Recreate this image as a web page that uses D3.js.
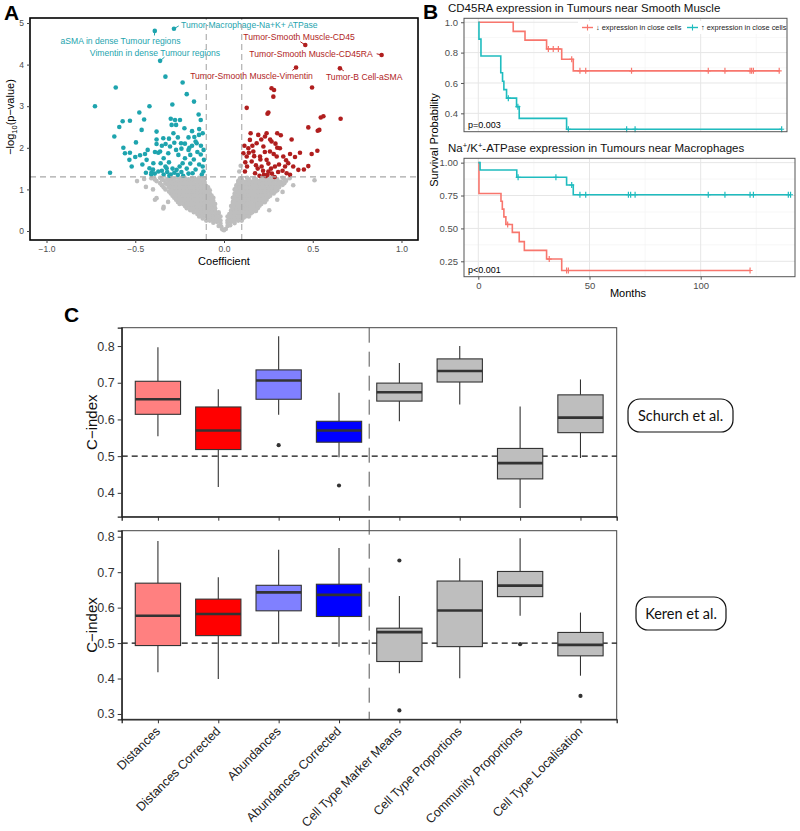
<!DOCTYPE html>
<html>
<head>
<meta charset="utf-8">
<script src="https://d3js.org/d3.v7.min.js"></script>
<style>
  body { margin: 0; background: #fff; font-family: "Liberation Sans", Arial, sans-serif; }
  svg { display: block; }
</style>
</head>
<body>
<div id="fig"></div>
<script>
// ---------- panel A : volcano ----------
const volcanoTeal = [[-0.727,3.0],[-0.61,3.45],[-0.642,1.40],[-0.618,2.27],[-0.59,2.5],[-0.571,2.64],[-0.567,2.0],[-0.558,1.87],[-0.533,1.71],[-0.53,2.65],[-0.52,1.55],[-0.496,2.13],[-0.477,2.85],[-0.473,1.82],[-0.464,2.43],[-0.45,2.68],[-0.445,1.85],[-0.436,1.71],[-0.42,3.0],[-0.42,1.51],[-0.408,1.41],[-0.398,1.63],[-0.389,1.9],[-0.38,2.39],[-0.38,2.09],[-0.37,1.43],[-0.36,1.91],[-0.357,1.63],[-0.342,2.23],[-0.33,3.71],[-0.329,2.09],[-0.323,1.51],[-0.314,1.87],[-0.308,1.33],[-0.304,2.03],[-0.295,2.55],[-0.291,3.04],[-0.285,2.35],[-0.276,2.67],[-0.267,1.47],[-0.257,1.83],[-0.248,2.67],[-0.242,2.11],[-0.233,3.57],[-0.233,1.63],[-0.223,2.47],[-0.21,3.29],[-0.2,2.25],[-0.195,2.0],[-0.19,1.83],[-0.177,1.39],[-0.169,3.11],[-0.167,2.26],[-0.154,2.11],[-0.143,2.8],[-0.141,2.31],[-0.131,2.67],[-0.131,1.84],[-0.116,1.43],[-0.113,1.71],
  [-0.41,1.36],[-0.39,1.38],[-0.35,1.45],[-0.34,1.36],[-0.33,1.55],[-0.32,1.42],[-0.31,1.65],[-0.3,1.36],[-0.29,1.5],[-0.28,1.4],[-0.27,1.95],[-0.26,1.35],[-0.25,1.55],[-0.24,1.42],[-0.23,1.33],[-0.22,1.75],[-0.21,1.5],[-0.2,1.38],[-0.19,1.62],[-0.18,2.05],[-0.17,1.72],[-0.16,1.48],[-0.15,1.9],[-0.14,1.6],[-0.13,2.05],[-0.125,1.36],[-0.12,2.35],[-0.115,1.95],[-0.35,2.05],[-0.37,1.88],[-0.4,1.48],[-0.43,1.95],[-0.46,1.6],[-0.5,1.78],[-0.53,1.88],[-0.31,2.22],[-0.28,2.12],[-0.26,2.25],[-0.24,1.98],[-0.22,2.1],[-0.2,1.95],[-0.18,2.4],[-0.16,2.15],[-0.14,2.45],[-0.3,2.7],[-0.27,2.55],[-0.38,2.2],[-0.12,1.55],[-0.44,1.4],[-0.34,1.75]];

const volcanoRed = [[0.268,3.43],[0.282,3.39],[0.278,3.23],[0.496,3.45],[0.128,2.96],[0.25,2.85],[0.245,2.82],[0.56,2.76],[0.545,2.73],[0.657,2.7],[0.475,2.49],[0.537,2.43],[0.528,2.41],[0.526,1.93],[0.494,1.85],[0.475,1.56],[0.428,1.88],[0.419,1.47],[0.381,2.2],[0.372,1.85],[0.362,1.63],[0.334,1.79],[0.344,1.55],[0.353,1.39],[0.315,1.99],[0.297,1.79],[0.287,1.55],[0.268,2.15],[0.259,1.91],[0.25,1.43],[0.24,1.71],[0.231,2.27],[0.222,2.03],[0.212,1.55],[0.203,1.79],[0.193,2.31],[0.184,2.11],[0.175,1.39],[0.165,1.91],[0.156,1.67],[0.146,2.19],[0.137,1.99],[0.128,1.79],[0.118,1.43],[0.109,1.87],
  [0.24,2.35],[0.26,2.2],[0.29,2.1],[0.33,1.45],[0.372,1.35],[0.2,1.33],[0.225,1.35],[0.3,2.0],[0.115,2.05],[0.13,1.55],[0.15,2.35],[0.17,1.8],[0.19,1.5],[0.21,2.2],[0.23,1.9],[0.25,1.62],[0.27,1.38],[0.28,1.85],[0.31,1.6],[0.32,2.3],[0.35,1.7],[0.39,1.55],[0.4,1.78],[0.16,2.05],[0.18,1.58],[0.205,1.72],[0.235,1.32],[0.265,1.5],[0.285,1.3],[0.305,1.42],[0.245,1.35],[0.22,1.45],[0.14,1.88],[0.12,1.65],[0.3,2.35],[0.45,1.48]];

const volcanoGrey = [
  [-0.01,0.04],[0.0,0.02],[-0.03,0.12],[-0.015,0.1],[-0.06,0.2],[-0.04,0.22],[-0.02,0.18],
  [-0.12,0.3],[-0.09,0.28],[-0.07,0.32],[-0.05,0.29],[-0.03,0.31],
  [-0.15,0.41],[-0.13,0.38],[-0.11,0.42],[-0.09,0.39],[-0.07,0.41],[-0.05,0.38],[-0.03,0.42],
  [-0.19,0.5],[-0.17,0.52],[-0.15,0.48],[-0.13,0.51],[-0.11,0.49],[-0.09,0.52],[-0.07,0.5],[-0.05,0.48],
  [-0.22,0.6],[-0.2,0.62],[-0.18,0.58],[-0.16,0.61],[-0.14,0.59],[-0.12,0.62],[-0.1,0.6],[-0.08,0.58],[-0.06,0.61],
  [-0.26,0.7],[-0.24,0.72],[-0.22,0.68],[-0.2,0.71],[-0.18,0.69],[-0.16,0.72],[-0.14,0.7],[-0.12,0.68],[-0.1,0.71],[-0.08,0.69],[-0.06,0.72],
  [-0.28,0.8],[-0.26,0.82],[-0.24,0.78],[-0.22,0.81],[-0.2,0.79],[-0.18,0.82],[-0.16,0.8],[-0.14,0.78],[-0.12,0.81],[-0.1,0.79],[-0.08,0.82],[-0.06,0.8],
  [-0.3,0.9],[-0.28,0.92],[-0.26,0.88],[-0.24,0.91],[-0.22,0.89],[-0.2,0.92],[-0.18,0.9],[-0.16,0.88],[-0.14,0.91],[-0.12,0.89],[-0.1,0.92],[-0.08,0.9],
  [-0.33,1.0],[-0.3,1.02],[-0.28,0.98],[-0.26,1.01],[-0.24,0.99],[-0.22,1.02],[-0.2,1.0],[-0.18,0.98],[-0.16,1.01],[-0.14,0.99],[-0.12,1.02],[-0.1,1.0],[-0.08,0.98],
  [-0.35,1.1],[-0.32,1.12],[-0.3,1.08],[-0.28,1.11],[-0.26,1.09],[-0.24,1.12],[-0.22,1.1],[-0.2,1.08],[-0.18,1.11],[-0.16,1.09],[-0.14,1.12],[-0.12,1.1],[-0.1,1.08],
  [-0.38,1.2],[-0.34,1.22],[-0.31,1.18],[-0.29,1.21],[-0.27,1.19],[-0.25,1.22],[-0.23,1.2],[-0.21,1.18],[-0.19,1.21],[-0.17,1.19],[-0.15,1.22],[-0.13,1.2],[-0.11,1.18],
  [-0.41,1.27],[-0.36,1.28],[-0.3,1.26],[-0.26,1.28],[-0.22,1.27],[-0.18,1.26],[-0.14,1.28],[-0.11,1.27],
  [-0.44,1.06],[-0.38,0.79],[-0.34,0.58],[-0.315,0.70],[-0.45,1.25],[-0.49,1.2],[-0.4,1.0],[-0.342,0.54],[-0.389,0.75],
  [0.01,0.05],[0.02,0.12],[0.035,0.14],[0.02,0.2],[0.04,0.22],[0.06,0.19],
  [0.03,0.3],[0.05,0.28],[0.07,0.31],[0.09,0.29],[0.11,0.32],
  [0.03,0.41],[0.05,0.39],[0.07,0.42],[0.09,0.38],[0.11,0.41],[0.13,0.39],[0.15,0.42],
  [0.04,0.5],[0.06,0.52],[0.08,0.48],[0.1,0.51],[0.12,0.49],[0.14,0.52],[0.16,0.5],[0.18,0.48],
  [0.04,0.6],[0.06,0.62],[0.08,0.58],[0.1,0.61],[0.12,0.59],[0.14,0.62],[0.16,0.6],[0.18,0.58],[0.2,0.61],
  [0.05,0.7],[0.07,0.72],[0.09,0.68],[0.11,0.71],[0.13,0.69],[0.15,0.72],[0.17,0.7],[0.19,0.68],[0.21,0.71],[0.23,0.69],
  [0.05,0.8],[0.07,0.82],[0.09,0.78],[0.11,0.81],[0.13,0.79],[0.15,0.82],[0.17,0.8],[0.19,0.78],[0.21,0.81],[0.23,0.79],[0.25,0.82],
  [0.06,0.9],[0.08,0.92],[0.1,0.88],[0.12,0.91],[0.14,0.89],[0.16,0.92],[0.18,0.9],[0.2,0.88],[0.22,0.91],[0.24,0.89],[0.26,0.92],[0.28,0.9],
  [0.06,1.0],[0.08,1.02],[0.1,0.98],[0.12,1.01],[0.14,0.99],[0.16,1.02],[0.18,1.0],[0.2,0.98],[0.22,1.01],[0.24,0.99],[0.26,1.02],[0.28,1.0],[0.3,0.98],
  [0.07,1.1],[0.09,1.12],[0.11,1.08],[0.13,1.11],[0.15,1.09],[0.17,1.12],[0.19,1.1],[0.21,1.08],[0.23,1.11],[0.25,1.09],[0.27,1.12],[0.29,1.1],[0.31,1.08],[0.33,1.11],
  [0.08,1.2],[0.1,1.22],[0.12,1.18],[0.14,1.21],[0.16,1.19],[0.18,1.22],[0.2,1.2],[0.22,1.18],[0.24,1.21],[0.26,1.19],[0.28,1.22],[0.3,1.2],[0.32,1.18],[0.35,1.21],
  [0.09,1.27],[0.13,1.28],[0.17,1.26],[0.21,1.28],[0.25,1.27],[0.29,1.26],[0.33,1.28],[0.37,1.27],
  [0.51,1.22],[0.39,1.1],[0.33,0.94],[0.255,0.5],[0.3,0.75],[0.094,1.57],[0.086,1.43]];
// more grey points of the dense core, one row per -log10(p) level: [y, x1, x2, ...]
const volcanoGreyRows = [
  [0.25,-0.1,-0.08,-0.06,-0.04,-0.02,0.02,0.04,0.06,0.08,0.1],
  [0.35,-0.14,-0.12,-0.1,-0.08,-0.06,-0.04,-0.02,0.02,0.04,0.06,0.08,0.1,0.12,0.14],
  [0.45,-0.17,-0.15,-0.13,-0.11,-0.09,-0.07,-0.05,-0.03,0.04,0.06,0.08,0.1,0.12,0.14,0.16],
  [0.55,-0.21,-0.19,-0.17,-0.15,-0.13,-0.11,-0.09,-0.07,-0.05,0.05,0.07,0.09,0.11,0.13,0.15,0.17,0.19],
  [0.65,-0.25,-0.23,-0.21,-0.19,-0.17,-0.15,-0.13,-0.11,-0.09,-0.07,-0.05,0.05,0.07,0.09,0.11,0.13,0.15,0.17,0.19,0.21],
  [0.75,-0.27,-0.25,-0.23,-0.21,-0.19,-0.17,-0.15,-0.13,-0.11,-0.09,-0.07,0.06,0.08,0.1,0.12,0.14,0.16,0.18,0.2,0.22,0.24],
  [0.85,-0.29,-0.27,-0.25,-0.23,-0.21,-0.19,-0.17,-0.15,-0.13,-0.11,-0.09,-0.07,0.06,0.08,0.1,0.12,0.14,0.16,0.18,0.2,0.22,0.24,0.26],
  [0.95,-0.31,-0.29,-0.27,-0.25,-0.23,-0.21,-0.19,-0.17,-0.15,-0.13,-0.11,-0.09,0.07,0.09,0.11,0.13,0.15,0.17,0.19,0.21,0.23,0.25,0.27,0.29],
  [1.05,-0.34,-0.31,-0.29,-0.27,-0.25,-0.23,-0.21,-0.19,-0.17,-0.15,-0.13,-0.11,-0.09,0.07,0.09,0.11,0.13,0.15,0.17,0.19,0.21,0.23,0.25,0.27,0.29,0.31],
  [1.15,-0.36,-0.33,-0.31,-0.29,-0.27,-0.25,-0.23,-0.21,-0.19,-0.17,-0.15,-0.13,-0.11,0.08,0.1,0.12,0.14,0.16,0.18,0.2,0.22,0.24,0.26,0.28,0.3,0.32,0.34],
  [1.24,-0.39,-0.35,-0.32,-0.28,-0.24,-0.2,-0.16,-0.12,0.1,0.14,0.18,0.22,0.26,0.3,0.34]
];

const volcanoLabelled = [
  {name: "Tumor-Macrophage-Na+K+ ATPase", x: -0.282, y: 4.86, sx: -0.255, sy: 4.93, lx: -0.242, ly: 4.95, anchor: "start", up: false},
  {name: "aSMA in dense Tumour regions", x: -0.39, y: 4.81, sx: -0.392, sy: 4.70, lx: -0.583, ly: 4.57, anchor: "middle", up: false},
  {name: "Vimentin in dense Tumour regions", x: -0.36, y: 4.09, sx: -0.335, sy: 4.18, lx: -0.389, ly: 4.28, anchor: "middle", up: false},
  {name: "Tumor-Smooth Muscle-CD45", x: 0.458, y: 4.47, sx: 0.43, sy: 4.55, lx: 0.423, ly: 4.66, anchor: "middle", up: true},
  {name: "Tumor-Smooth Muscle-CD45RA", x: 0.888, y: 4.23, sx: 0.86, sy: 4.26, lx: 0.49, ly: 4.25, anchor: "middle", up: true},
  {name: "Tumor-Smooth Muscle-Vimentin", x: 0.406, y: 3.93, sx: 0.385, sy: 3.86, lx: 0.155, ly: 3.73, anchor: "middle", up: true},
  {name: "Tumor-B Cell-aSMA", x: 0.653, y: 3.91, sx: 0.675, sy: 3.85, lx: 0.79, ly: 3.70, anchor: "middle", up: true}
];
const volcanoXTicks = [-1.0, -0.5, 0.0, 0.5, 1.0];
const volcanoYTicks = [0, 1, 2, 3, 4, 5];

// ---------- panel B : Kaplan-Meier ----------
const monthTicks = [0, 50, 100];
const cd45raLowEvents = [[15.7,0.94],[21,0.882],[30.7,0.824],[37.5,0.756],[42.7,0.68]];
const cd45raLowCensor = [31.5,33.7,36,42,45.7,48.3,68.9,103.4,110.9,122.2,122.9,123.7,135.3];
const cd45raHighEvents = [[0.3,0.889],[1.2,0.778],[10.1,0.667],[10.9,0.611],[11.5,0.556],[12.7,0.5],[17.2,0.444],[18.4,0.367],[39.7,0.295]];
const cd45raHighCensor = [13.5,17.8,40.5,66.7,70.5,136.4];
const atpaseLowEvents = [[0.3,0.765],[10.2,0.706],[10.8,0.647],[11.5,0.588],[12.4,0.53],[15.3,0.47],[18.4,0.40],[20.7,0.333],[30.7,0.267],[37.5,0.18]];
const atpaseLowCensor = [13.2,31.9,39.7,40.5,122.2];
const atpaseHighEvents = [[0.8,0.944],[17.3,0.889],[39.7,0.83],[42.7,0.756]];
const atpaseHighCensor = [17.9,34.9,42,45.7,48.3,67.5,68.5,70.5,103.4,110.9,122.2,123.7,139.4,140.4];
const cd45raYTicks = [0.4, 0.6, 0.8, 1.0];
const atpaseYTicks = [0.25, 0.50, 0.75, 1.00];

// ---------- panel C : C-index boxplots ----------
const methods = ["Distances", "Distances Corrected", "Abundances", "Abundances Corrected",
  "Cell Type Marker Means", "Cell Type Proportions", "Community Proportions", "Cell Type Localisation"];
// [whisker low, q1, median, q3, whisker high]
const schurchStats = [[0.554,0.614,0.655,0.704,0.797],[0.416,0.518,0.57,0.634,0.682],[0.613,0.655,0.706,0.735,0.827],[0.497,0.538,0.57,0.595,0.673],
  [0.595,0.65,0.674,0.699,0.754],[0.641,0.702,0.732,0.765,0.80],[0.359,0.438,0.481,0.521,0.635],[0.495,0.564,0.605,0.667,0.709]];
const schurchOutliers = [[2,0.53],[3,0.42]];
const kerenStats = [[0.418,0.493,0.577,0.669,0.788],[0.399,0.521,0.582,0.624,0.686],[0.498,0.591,0.643,0.663,0.763],[0.49,0.575,0.636,0.666,0.768],
  [0.415,0.448,0.531,0.542,0.633],[0.401,0.49,0.592,0.675,0.739],[0.577,0.631,0.662,0.702,0.796],[0.408,0.464,0.495,0.53,0.586]];
const kerenOutliers = [[4,0.733],[4,0.31],[6,0.497],[7,0.351]];
const schurchTicks = [0.4, 0.5, 0.6, 0.7, 0.8];
const kerenTicks = [0.3, 0.4, 0.5, 0.6, 0.7, 0.8];

const methodFill = ["#FF8080", "#FF0000", "#8080FF", "#0000FF", "#BEBEBE", "#BEBEBE", "#BEBEBE", "#BEBEBE"];
const tealV = "#1ea4ae", redV = "#b01e1e", greyV = "#bebebe";
const kmRed = "#F8766D", kmTeal = "#1fbcbf";

const svg = d3.select("#fig").append("svg").attr("width", 800).attr("height", 831);

function panelLetter(t, x, y) {
  svg.append("text").attr("x", x).attr("y", y).text(t)
    .attr("font-size", 21).attr("font-weight", "bold").attr("fill", "#000");
}

// ================= A =================
{
  const g = svg.append("g");
  const x = d3.scaleLinear().domain([-1.093, 1.093]).range([30, 418]);
  const y = d3.scaleLinear().domain([-0.216, 5.12]).range([240, 18]);

  const greyAll = volcanoGrey.concat(...volcanoGreyRows.map(r => r.slice(1).map(v => [v, r[0]])));
  const dot = (arr, col) => g.append("g").selectAll("circle").data(arr).join("circle")
    .attr("cx", d => x(d[0])).attr("cy", d => y(d[1])).attr("r", 2.3).attr("fill", col);
  dot(greyAll, greyV);
  dot(volcanoTeal, tealV);
  dot(volcanoRed, redV);
  dot(volcanoLabelled.filter(d => !d.up).map(d => [d.x, d.y]), tealV);
  dot(volcanoLabelled.filter(d => d.up).map(d => [d.x, d.y]), redV);

  g.selectAll("line.seg").data(volcanoLabelled).join("line").attr("class", "seg")
    .attr("x1", d => x(d.x)).attr("y1", d => y(d.y)).attr("x2", d => x(d.sx)).attr("y2", d => y(d.sy))
    .attr("stroke", d => d.up ? redV : tealV).attr("stroke-width", 1);
  g.selectAll("text.lab").data(volcanoLabelled).join("text").attr("class", "lab")
    .attr("x", d => x(d.lx)).attr("y", d => y(d.ly)).attr("dy", "0.35em")
    .attr("text-anchor", d => d.anchor).attr("font-size", 8.6)
    .attr("fill", d => d.up ? redV : tealV).text(d => d.name);

  // threshold lines
  const dash = {stroke: "#a8a8a8", "stroke-width": 1.1, "stroke-dasharray": "6,4"};
  [-0.1, 0.1].forEach(v => {
    const l = g.append("line").attr("x1", x(v)).attr("x2", x(v)).attr("y1", y(-0.216)).attr("y2", y(5.12));
    Object.entries(dash).forEach(([k, val]) => l.attr(k, val));
  });
  const hl = g.append("line").attr("x1", x(-1.093)).attr("x2", x(1.093)).attr("y1", y(-Math.log10(0.05))).attr("y2", y(-Math.log10(0.05)));
  Object.entries(dash).forEach(([k, val]) => hl.attr(k, val));

  g.append("rect").attr("x", 30).attr("y", 18).attr("width", 388).attr("height", 222)
    .attr("fill", "none").attr("stroke", "#000").attr("stroke-width", 1.6);

  const xa = g.append("g").attr("transform", "translate(0,240)")
    .call(d3.axisBottom(x).tickValues(volcanoXTicks).tickSize(3).tickFormat(d => d3.format(".1f")(d).replace("-", "−")));
  const ya = g.append("g").attr("transform", "translate(30,0)")
    .call(d3.axisLeft(y).tickValues(volcanoYTicks).tickSize(3).tickFormat(d3.format("d")));
  [xa, ya].forEach(a => {
    a.select(".domain").remove();
    a.selectAll("line").attr("stroke", "#444");
    a.selectAll("text").attr("font-size", 8.5).attr("fill", "#4d4d4d").attr("font-family", "Liberation Sans, Arial, sans-serif");
  });
  g.append("text").attr("x", 224).attr("y", 265).attr("text-anchor", "middle")
    .attr("font-size", 11).text("Coefficient");
  const yt = g.append("text").attr("transform", "translate(14,117) rotate(-90)").attr("text-anchor", "middle").attr("font-size", 11);
  yt.append("tspan").text("−log");
  yt.append("tspan").text("10").attr("font-size", 7.5).attr("dy", 3);
  yt.append("tspan").text("(p−value)").attr("dy", -3);
  panelLetter("A", 4, 20);
}

// ================= B =================
function kmPanel(opts) {
  const g = svg.append("g");
  const x = d3.scaleLinear().domain([-6.43, (opts.right - 478.3) / 2.224]).range([464, opts.right]);
  const y = d3.scaleLinear().domain(opts.yDomain).range([opts.bottom, opts.top]);
  const [x0, x1] = x.range();
  // grid
  opts.minorY.forEach(v => g.append("line").attr("x1", x0).attr("x2", x1).attr("y1", y(v)).attr("y2", y(v)).attr("stroke", "#f3f3f3").attr("stroke-width", 0.7));
  [25, 75, 125].forEach(v => g.append("line").attr("x1", x(v)).attr("x2", x(v)).attr("y1", opts.top).attr("y2", opts.bottom).attr("stroke", "#f3f3f3").attr("stroke-width", 0.7));
  opts.yTicks.forEach(v => g.append("line").attr("x1", x0).attr("x2", x1).attr("y1", y(v)).attr("y2", y(v)).attr("stroke", "#e6e6e6").attr("stroke-width", 1));
  monthTicks.forEach(v => g.append("line").attr("x1", x(v)).attr("x2", x(v)).attr("y1", opts.top).attr("y2", opts.bottom).attr("stroke", "#e6e6e6").attr("stroke-width", 1));

  const line = d3.line().x(d => x(d[0])).y(d => y(d[1])).curve(d3.curveStepAfter);
  opts.series.forEach(s => {
    const end = d3.max(s.censor);
    const pts = [[0, 1]].concat(s.events, [[end, s.events[s.events.length - 1][1]]]);
    g.append("path").datum(pts).attr("d", line).attr("fill", "none").attr("stroke", s.colour).attr("stroke-width", 1.6);
    const survAt = t => { let v = 1; s.events.forEach(e => { if (e[0] <= t) v = e[1]; }); return v; };
    g.append("g").selectAll("path").data(s.censor).join("path")
      .attr("d", t => { const cx = x(t), cy = y(survAt(t)); return `M${cx - 2.5},${cy}H${cx + 2.5}M${cx},${cy - 3}V${cy + 3}`; })
      .attr("stroke", s.colour).attr("stroke-width", 1.2);
  });

  g.append("rect").attr("x", x0).attr("y", opts.top).attr("width", x1 - x0).attr("height", opts.bottom - opts.top)
    .attr("fill", "none").attr("stroke", "#555").attr("stroke-width", 1);

  const ya = g.append("g").attr("transform", `translate(${x0},0)`)
    .call(d3.axisLeft(y).tickValues(opts.yTicks).tickSize(3).tickFormat(d3.format(opts.fmt)));
  ya.select(".domain").remove();
  ya.selectAll("line").attr("stroke", "#555");
  ya.selectAll("text").attr("font-size", 9.5).attr("fill", "#4d4d4d").attr("font-family", "Liberation Sans, Arial, sans-serif");
  if (opts.xAxis) {
    const xa = g.append("g").attr("transform", `translate(0,${opts.bottom})`)
      .call(d3.axisBottom(x).tickValues(monthTicks).tickSize(3));
    xa.select(".domain").remove();
    xa.selectAll("line").attr("stroke", "#555");
    xa.selectAll("text").attr("font-size", 9.5).attr("fill", "#4d4d4d").attr("font-family", "Liberation Sans, Arial, sans-serif");
  }
  g.append("text").attr("x", x0 + 4).attr("y", opts.bottom - 4).attr("font-size", 9).text(opts.p);
  return {g, x, y};
}

kmPanel({top: 18.3, bottom: 131.7, right: 787, yDomain: [0.279, 1.026], yTicks: cd45raYTicks, minorY: [0.3, 0.5, 0.7, 0.9], fmt: ".1f",
  series: [{events: cd45raLowEvents, censor: cd45raLowCensor, colour: kmRed}, {events: cd45raHighEvents, censor: cd45raHighCensor, colour: kmTeal}],
  p: "p=0.003", xAxis: false});
kmPanel({top: 158.3, bottom: 276.7, right: 795, yDomain: [0.133, 1.033], yTicks: atpaseYTicks, minorY: [0.375, 0.625, 0.875], fmt: ".2f",
  series: [{events: atpaseLowEvents, censor: atpaseLowCensor, colour: kmRed}, {events: atpaseHighEvents, censor: atpaseHighCensor, colour: kmTeal}],
  p: "p<0.001", xAxis: true});

// legend (inside top plot)
{
  const lg = svg.append("g");
  lg.append("rect").attr("x", 578).attr("y", 21).attr("width", 208).attr("height", 13).attr("fill", "#fff");
  [[582, kmRed, "↓ expression in close cells"], [687, kmTeal, "↑ expression in close cells"]].forEach(([lx, c, t]) => {
    lg.append("line").attr("x1", lx).attr("x2", lx + 11).attr("y1", 27.5).attr("y2", 27.5).attr("stroke", c).attr("stroke-width", 1.4);
    lg.append("path").attr("d", `M${lx + 3},27.5H${lx + 8}M${lx + 5.5},24.5V30.5`).attr("stroke", c).attr("stroke-width", 1.1);
    lg.append("text").attr("x", lx + 14).attr("y", 30.3).attr("font-size", 7.4).attr("fill", "#222").text(t);
  });
}
svg.append("text").attr("x", 448).attr("y", 12).attr("font-size", 11.5).attr("fill", "#111")
  .text("CD45RA expression in Tumours near Smooth Muscle");
{
  const t = svg.append("text").attr("x", 448).attr("y", 152).attr("font-size", 11.5).attr("fill", "#111");
  t.append("tspan").text("Na");
  t.append("tspan").text("+").attr("font-size", 7.5).attr("dy", -4);
  t.append("tspan").text("/K").attr("dy", 4);
  t.append("tspan").text("+").attr("font-size", 7.5).attr("dy", -4);
  t.append("tspan").text("-ATPase expression in Tumours near Macrophages").attr("dy", 4);
}
svg.append("text").attr("transform", "translate(438,140) rotate(-90)").attr("text-anchor", "middle")
  .attr("font-size", 11).text("Survival Probability");
svg.append("text").attr("x", 628).attr("y", 297).attr("text-anchor", "middle").attr("font-size", 11).text("Months");
panelLetter("B", 423, 19);

// ================= C =================
const cx = d3.scalePoint().domain(methods).range([121.7, 616.7]).padding(0.6);
const boxW = cx.step() * 0.75;

function boxFacet(stats, outliers, ticks, yDomain, y0, y1) {
  const g = svg.append("g");
  const y = d3.scaleLinear().domain(yDomain).range([y1, y0]);
  g.append("rect").attr("x", 121.7).attr("y", y0).attr("width", 495).attr("height", y1 - y0)
    .attr("fill", "#fff").attr("stroke", "#444").attr("stroke-width", 1);
  g.append("line").attr("x1", 121.7).attr("x2", 616.7).attr("y1", y(0.5)).attr("y2", y(0.5))
    .attr("stroke", "#111").attr("stroke-width", 1.2).attr("stroke-dasharray", "6,4");

  const b = g.selectAll("g.box").data(stats).join("g").attr("class", "box")
    .attr("transform", (d, i) => `translate(${cx(methods[i])},0)`);
  b.append("line").attr("y1", d => y(d[0])).attr("y2", d => y(d[1])).attr("stroke", "#333").attr("stroke-width", 1.1);
  b.append("line").attr("y1", d => y(d[3])).attr("y2", d => y(d[4])).attr("stroke", "#333").attr("stroke-width", 1.1);
  b.append("rect").attr("x", -boxW / 2).attr("width", boxW).attr("y", d => y(d[3])).attr("height", d => y(d[1]) - y(d[3]))
    .attr("fill", (d, i) => methodFill[i]).attr("stroke", "#333").attr("stroke-width", 1.1);
  b.append("line").attr("x1", -boxW / 2).attr("x2", boxW / 2).attr("y1", d => y(d[2])).attr("y2", d => y(d[2]))
    .attr("stroke", "#333").attr("stroke-width", 2.6);
  g.selectAll("circle").data(outliers).join("circle")
    .attr("cx", d => cx(methods[d[0]])).attr("cy", d => y(d[1])).attr("r", 2.1).attr("fill", "#333");

  const ya = g.append("g").attr("transform", "translate(121.7,0)")
    .call(d3.axisLeft(y).tickValues(ticks).tickSize(4).tickFormat(d3.format(".1f")));
  ya.select(".domain").attr("stroke", "#222").attr("stroke-width", 1.3);
  ya.selectAll("line").attr("stroke", "#333");
  ya.selectAll("text").attr("font-size", 12.5).attr("fill", "#333").attr("font-family", "Liberation Sans, Arial, sans-serif");
  const xa = g.append("g").attr("transform", `translate(0,${y1})`).call(d3.axisBottom(cx).tickSize(4).tickFormat(""));
  xa.select(".domain").attr("stroke", "#222").attr("stroke-width", 1.3);
  xa.selectAll("line").attr("stroke", "#333");
  g.append("text").attr("transform", `translate(97,${(y0 + y1) / 2}) rotate(-90)`).attr("text-anchor", "middle")
    .attr("font-size", 15).attr("fill", "#111").text("C−index");
  return g;
}

boxFacet(schurchStats, schurchOutliers, schurchTicks, [0.335, 0.85], 327.7, 516.7);
boxFacet(kerenStats, kerenOutliers, kerenTicks, [0.285, 0.817], 530.7, 719.3);

// separator between spatial and non-spatial features
const sepX = (cx(methods[3]) + cx(methods[4])) / 2;
svg.append("line").attr("x1", sepX).attr("x2", sepX)
  .attr("y1", 327.7).attr("y2", 719.3).attr("stroke", "#555").attr("stroke-width", 1).attr("stroke-dasharray", "15,9");

svg.append("g").selectAll("text").data(methods).join("text")
  .attr("transform", d => `translate(${cx(d) + 3},732) rotate(-45)`)
  .attr("text-anchor", "end").attr("font-size", 12.5).attr("fill", "#222").text(d => d);

[["Schurch et al.", 628, 399, 105, 33], ["Keren et al.", 636, 597, 90, 33]].forEach(([t, x, y, w, h]) => {
  svg.append("rect").attr("x", x).attr("y", y).attr("width", w).attr("height", h).attr("rx", 12)
    .attr("fill", "#fff").attr("stroke", "#111").attr("stroke-width", 1.2);
  svg.append("text").attr("x", x + w / 2).attr("y", y + h / 2).attr("dy", "0.35em").attr("text-anchor", "middle")
    .attr("font-family", "Lato, 'Open Sans', sans-serif").attr("font-size", 14.5).attr("fill", "#111").text(t);
});
panelLetter("C", 64, 322);
</script>
</body>
</html>
